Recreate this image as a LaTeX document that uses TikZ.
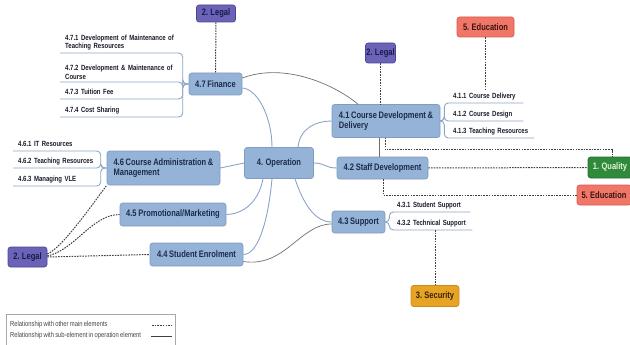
\documentclass[tikz,border=0pt]{standalone}
\usepackage{fontspec}
\setmainfont{Liberation Sans}[FakeStretch=0.8,WordSpace=0.8]
\definecolor{mainfill}{HTML}{95B3D7}
\definecolor{mainborder}{HTML}{7E9CC4}
\definecolor{maintext}{HTML}{1C2B4A}
\definecolor{legalfill}{HTML}{6B63B8}
\definecolor{legalborder}{HTML}{4B4396}
\definecolor{legaltext}{HTML}{1A1A4A}
\definecolor{edufill}{HTML}{F07768}
\definecolor{eduborder}{HTML}{D9584A}
\definecolor{edutext}{HTML}{3A1510}
\definecolor{qualfill}{HTML}{2F8A3C}
\definecolor{qualborder}{HTML}{23702E}
\definecolor{qualtext}{HTML}{E8F0D8}
\definecolor{secfill}{HTML}{E6A326}
\definecolor{secborder}{HTML}{C98A18}
\definecolor{sectext}{HTML}{3A2505}
\definecolor{linkcol}{HTML}{8AA5C6}
\definecolor{crosscol}{HTML}{6E6E6E}
\definecolor{dashcol}{HTML}{404040}
\definecolor{subtext}{HTML}{1A1A2A}
\definecolor{legendborder}{HTML}{A8A8A8}
\definecolor{legtextcol}{HTML}{444444}
\begin{document}
\begin{tikzpicture}[x=1pt,y=-1pt,
  boxbase/.style={rounded corners=2.5pt, line width=0.6pt, inner sep=0pt, align=center,
    font=\fontsize{9.4}{10.6}\selectfont\bfseries},
  main/.style={boxbase, draw=mainborder, fill=mainfill, text=maintext},
  legal/.style={boxbase, draw=legalborder, fill=legalfill, text=legaltext},
  edu/.style={boxbase, draw=eduborder, fill=edufill, text=edutext},
  qual/.style={boxbase, draw=qualborder, fill=qualfill, text=qualtext},
  secu/.style={boxbase, draw=secborder, fill=secfill, text=sectext},
  sub/.style={font=\fontsize{7.5}{8.6}\selectfont\bfseries, text=subtext, inner xsep=5pt,
    inner ysep=2.5pt, anchor=south west, align=left},
  subone/.style={sub, text depth=1.5pt},
  link/.style={draw=linkcol, line width=0.9pt},
  subline/.style={draw=linkcol, line width=0.9pt, rounded corners=4pt},
  cross/.style={draw=crosscol, line width=0.7pt},
  rel/.style={draw=dashcol, line width=1pt, dash pattern=on 1.6pt off 1.1pt},
  legtext/.style={font=\fontsize{7.3}{8}\selectfont, text=legtextcol, inner sep=0pt, anchor=west}
]
\useasboundingbox (0,0) rectangle (630,345);

% main nodes
\node[legal, minimum width=39pt, minimum height=17pt] (legalA) at (216,13.5) {2. Legal};
\node[main, minimum width=53pt, minimum height=22pt] (fin) at (215.5,84) {4.7 Finance};
\node[main, minimum width=69pt, minimum height=31pt] (op) at (279,163) {4. Operation};
\node[main, minimum width=108pt, minimum height=33pt, align=left] (cd) at (386,121) {4.1 Course Development \&\\Delivery};
\node[legal, minimum width=30pt, minimum height=20pt] (legalB) at (380.5,53) {2. Legal};
\node[edu, minimum width=57pt, minimum height=20pt] (eduA) at (485.5,27) {5. Education};
\node[main, minimum width=91pt, minimum height=22pt] (sd) at (382.5,168) {4.2 Staff Development};
\node[qual, minimum width=44pt, minimum height=21pt] (quality) at (610,167.5) {1. Quality};
\node[edu, minimum width=54pt, minimum height=20pt] (eduB) at (604,195) {5. Education};
\node[main, minimum width=53pt, minimum height=22pt] (sup) at (358.5,222) {4.3 Support};
\node[secu, minimum width=48pt, minimum height=21pt] (sec) at (435,296) {3. Security};
\node[main, minimum width=113pt, minimum height=34pt, align=left] (cam) at (163.5,168) {4.6 Course Administration \&\\Management};
\node[main, minimum width=106pt, minimum height=23pt] (pm) at (173,214.5) {4.5 Promotional/Marketing};
\node[main, minimum width=93pt, minimum height=23pt] (se) at (196.5,254.5) {4.4 Student Enrolment};
\node[legal, minimum width=39pt, minimum height=20pt] (legalC) at (27.5,257) {2. Legal};

% sub-elements of 4.7
\node[sub, text width=112pt] (t471) at (60,53) {4.7.1 Development of Maintenance of\\Teaching Resources};
\node[sub, text width=112pt] (t472) at (60,82) {4.7.2 Development \& Maintenance of\\Course};
\node[subone, text width=112pt] (t473) at (60,99) {4.7.3 Tuition Fee};
\node[subone, text width=112pt] (t474) at (60,117) {4.7.4 Cost Sharing};
\foreach \c in {t471,t472,t473,t474}
  \draw[subline] (fin.west) -- ++(-6,0) |- (\c.south west);

% sub-elements of 4.6
\node[subone, text width=78pt] (t461) at (13,151) {4.6.1 IT Resources};
\node[subone, text width=78pt] (t462) at (13,168) {4.6.2 Teaching Resources};
\node[subone, text width=78pt] (t463) at (13,186) {4.6.3 Managing VLE};
\foreach \c in {t461,t462,t463}
  \draw[subline] (cam.west) -- ++(-6,0) |- (\c.south west);

% sub-elements of 4.1
\node[subone, text width=65pt] (t411) at (448,103) {4.1.1 Course Delivery};
\node[subone, text width=65pt] (t412) at (448,121) {4.1.2 Course Design};
\node[subone, text width=76pt] (t413) at (448,138) {4.1.3 Teaching Resources};
\foreach \c in {t411,t412,t413}
  \draw[subline] (cd.east) -- ++(4,0) |- (\c.south east);

% sub-elements of 4.3
\node[subone, text width=68pt] (t431) at (392,212) {4.3.1 Student Support};
\node[subone, text width=70pt] (t432) at (392,230) {4.3.2 Technical Support};
\foreach \c in {t431,t432}
  \draw[subline] (sup.east) -- ++(4,0) |- (\c.south east);

% operation links
\draw[link] ([xshift=-7pt]op.north) .. controls (272,118) and (258,89) .. ([yshift=-4pt]fin.east);
\draw[link] ([xshift=19pt]op.north) .. controls (300,128) and (316,121) .. (cd.west);
\draw[link] (op.east) .. controls (325,163) and (325,168) .. (sd.west);
\draw[link] ([xshift=16pt]op.south) .. controls (304,206) and (316,222) .. (sup.west);
\draw[link] (op.west) -- (cam.east);
\draw[link] ([xshift=-16pt]op.south) .. controls (258,205) and (240,214.5) .. (pm.east);
\draw[link] ([xshift=-7pt]op.south) .. controls (268,222) and (258,254.5) .. (se.east);
\draw[cross] ([yshift=6pt]fin.east) .. controls (285,62) and (335,85) .. ([xshift=-28pt]cd.north);
\draw[cross] ([yshift=-7pt]se.east) .. controls (285,268) and (300,224) .. ([yshift=-2pt]sup.west);
\draw[cross] ([xshift=-7pt]cd.south) -- ([xshift=-3.5pt]sd.north);

% relationships with other main elements
\draw[rel] (legalA) -- (fin);
\draw[rel] (legalB) -- (legalB |- cd.north);
\draw[rel] (eduA) -- (eduA.south |- t411.north);
\draw[rel] (sd.east) -- (quality.west);
\draw[rel] ([xshift=-1pt]cd.south) -- ++(0,12) -| ([xshift=2pt]quality.north);
\draw[rel] ([xshift=0.5pt]sd.south) |- (eduB.west);
\draw[rel] (sec.north |- t432.south) -- (sec.north);
\draw[rel] ([yshift=3pt]legalC.east) .. controls (62,248) and (92,205) .. (cam.south west);
\draw[rel] ([yshift=1pt]legalC.east) .. controls (75,250) and (92,214.5) .. (pm.west);
\draw[rel] (legalC.east) -- (se.west);

% legend
\node[draw=legendborder, line width=0.8pt, minimum width=169pt, minimum height=32pt, anchor=north west, inner sep=0pt] (legend) at (6,314) {};
\node[legtext] (leg1) at (10,325) {Relationship with other main elements};
\node[legtext] (leg2) at (10,336) {Relationship with sub-element in operation element};
\coordinate (lda) at (152,325);
\coordinate (ldb) at (172,325);
\coordinate (lsa) at (151,336);
\coordinate (lsb) at (172,336);
\draw[rel, line width=0.6pt] (lda) -- (ldb);
\draw[draw=dashcol, line width=0.6pt] (lsa) -- (lsb);
\end{tikzpicture}
\end{document}
